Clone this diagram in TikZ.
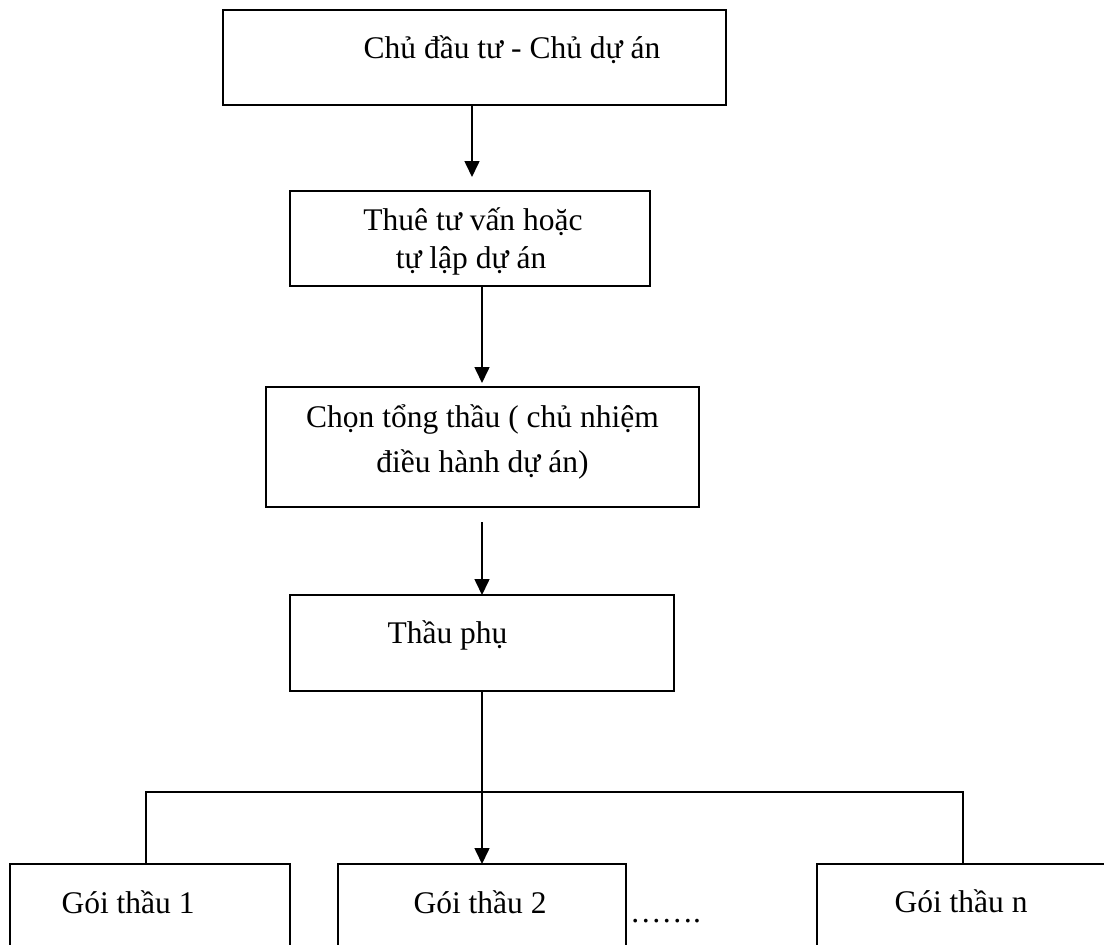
\documentclass[tikz,border=0pt]{standalone}
\usepackage{fontspec}
\setmainfont{Liberation Serif}
\usetikzlibrary{arrows.meta}
\tikzset{
  box/.style={draw=black, line width=1.6bp, rectangle, inner sep=0pt, outer sep=0pt, anchor=north west},
  txt/.style={inner sep=0pt, outer sep=0pt, anchor=base, font=\fontsize{31.5bp}{36bp}\selectfont},
  conn/.style={draw=black, line width=1.6bp},
  arr/.style={conn, -{Triangle[length=16bp,width=15bp]}}
}
\begin{document}
\begin{tikzpicture}[x=1bp,y=-1bp]
\useasboundingbox (0,0) rectangle (1104,945);
\fill[white] (0,0) rectangle (1104,945);
\clip (0,0) rectangle (1104,945);
% boxes
\node[box, minimum width=503bp, minimum height=95bp] (b1) at (223,10) {};
\node[box, minimum width=360bp, minimum height=95bp] (b2) at (290,191) {};
\node[box, minimum width=433bp, minimum height=120bp] (b3) at (266,387) {};
\node[box, minimum width=384bp, minimum height=96bp] (b4) at (290,595) {};
\node[box, minimum width=280bp, minimum height=100bp] (g1) at (10,864) {};
\node[box, minimum width=288bp, minimum height=100bp] (g2) at (338,864) {};
\node[box, minimum width=290bp, minimum height=100bp] (gn) at (817,864) {};
% texts
\node[txt] (t1) at (512,58) {Chủ đầu tư - Chủ dự án};
\node[txt] (t2a) at (473,230) {Thuê tư vấn hoặc};
\node[txt] (t2b) at (471,268) {tự lập dự án};
\node[txt] (t3a) at (482.5,427) {Chọn tổng thầu ( chủ nhiệm};
\node[txt] (t3b) at (482.5,472) {điều hành dự án)};
\node[txt] (t4) at (447.5,643) {Thầu phụ};
\node[txt] (tg1) at (128,913) {Gói thầu 1};
\node[txt] (tg2) at (480,913) {Gói thầu 2};
\node[txt] (tgn) at (961,912) {Gói thầu n};
\node[txt, anchor=base west] (dots) at (630,922) {……. };
% connector coordinates
\coordinate (c1) at (472,177);
\coordinate (c2) at (482,383);
\coordinate (c3) at (482,522);
\coordinate (hl) at (146,792);
\coordinate (hr) at (963,792);
% connectors
\draw[arr] (b1.south -| c1) -- (c1);
\draw[arr] (b2.south -| c2) -- (c2);
\draw[arr] (c3) -- (b4.north);
\draw[arr] (b4.south) -- (g2.north);
\draw[conn] (hl |- g1.north) -- (hl) -- (hr) -- (hr |- gn.north);
\end{tikzpicture}
\end{document}
